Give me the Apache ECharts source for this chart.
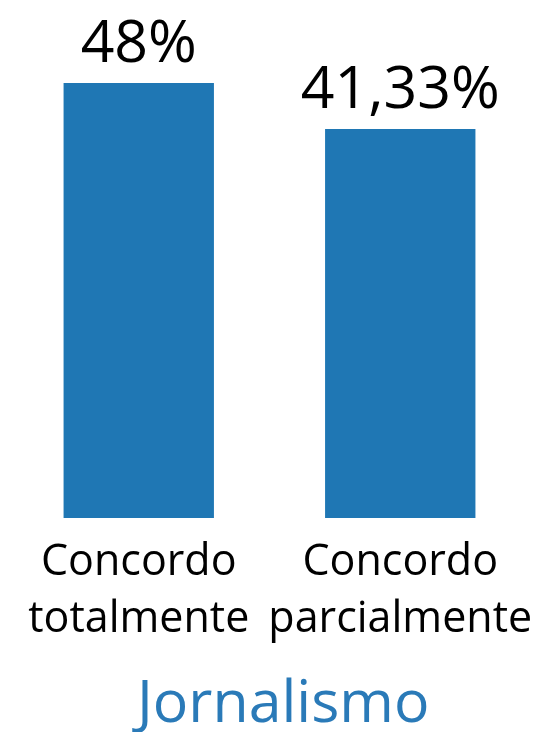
<!DOCTYPE html>
<html><head><meta charset="utf-8">
<style>html,body{margin:0;padding:0;background:#fff}#c{width:539px;height:732px}</style>
<script src="https://cdn.jsdelivr.net/npm/echarts@6/dist/echarts.min.js"></script>
</head><body><div id="c"></div>
<script>
const categories = ['Concordo\ntotalmente', 'Concordo\nparcialmente'];
const values = [48, 41.33];
const titleText = 'Jornalismo';
const Y_MIN = -15, Y_MAX = 60;
const BAR_COLOR = '#1f77b4';
const FONT = '"Open Sans", "Noto Sans", sans-serif';

const chart = echarts.init(document.getElementById('c'));
chart.setOption({
  animation: false,
  title: { text: titleText, left: 132, bottom: -8,
    textStyle: { color: '#2a7ab8', fontSize: 59, fontWeight: 'normal', fontFamily: FONT } },
  grid: { left: 8, width: 523, top: 0, height: 518 },
  xAxis: { type: 'category', data: categories,
    axisLine: { show: false }, axisTick: { show: false },
    axisLabel: { color: '#000', fontSize: 43, lineHeight: 57, fontFamily: FONT, margin: 16, interval: 0 } },
  yAxis: { type: 'value', min: Y_MIN, max: Y_MAX, show: false, splitLine: { show: false } },
  series: [{
    type: 'custom',
    data: values.map((v, i) => [i, v]),
    renderItem: function (params, api) {
      const x = api.value(0), v = api.value(1);
      const top = api.coord([x, v]);
      const base = api.coord([x, Y_MIN]);
      const w = api.size([1, 0])[0] * 0.575;
      return { type: 'group', children: [
        { type: 'rect', shape: { x: top[0] - w / 2, y: top[1], width: w, height: base[1] - top[1] },
          style: { fill: BAR_COLOR } },
        { type: 'text', style: { text: String(v).replace('.', ',') + '%', x: top[0], y: top[1] - 8,
          align: 'center', verticalAlign: 'bottom', fill: '#000', fontSize: 59, fontFamily: FONT } }
      ]};
    }
  }]
});
</script></body></html>
